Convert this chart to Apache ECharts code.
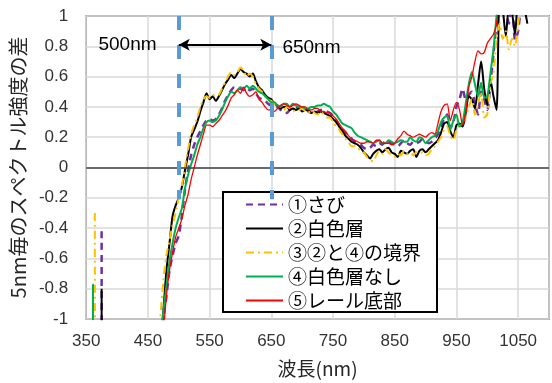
<!DOCTYPE html>
<html><head><meta charset="utf-8">
<script src="https://cdn.jsdelivr.net/npm/echarts@6/dist/echarts.min.js"></script>
<style>html,body{margin:0;padding:0;background:#fff}#c{width:552px;height:383px}</style>
</head><body><div id="c"></div>
<script>
// ---- data ----
const seriesNames = ['①さび', '②白色層', '③②と④の境界', '④白色層なし', '⑤レール底部'];
const wavelengths = [
  465,470,475,480,485,490,495,500,505,510,
  515,520,525,530,535,540,545,550,555,560,
  565,570,575,580,585,590,595,600,605,610,
  615,620,625,630,635,640,645,650,655,660,
  665,670,675,680,685,690,695,700,705,710,
  715,720,725,730,735,740,745,750,755,760,
  765,770,775,780,785,790,795,800,805,810,
  815,820,825,830,835,840,845,850,855,860,
  865,870,875,880,885,890,895,900,905,910,
  915,920,925,930,935,940,945,950,955,960,
  965,970,975,980,985,990,995,1000,1005,1010,
  1015,1020,1025,1030,1035,1040,1045,1050,1055,1060,
  1065
];
// ① さび
const rustValues = [
  -1.5,-1.2,-1.0,-0.85,-0.68,-0.58,-0.5,-0.45,-0.32,-0.15,
  -0.02,0.08,0.15,0.20,0.24,0.28,0.31,0.32,0.31,0.32,
  0.35,0.39,0.44,0.48,0.51,0.53,0.52,0.52,0.51,0.53,
  0.51,0.52,0.49,0.46,0.45,0.44,0.42,0.41,0.40,0.40,
  0.38,0.36,0.36,0.38,0.39,0.40,0.39,0.38,0.39,0.37,
  0.36,0.35,0.37,0.38,0.38,0.37,0.36,0.34,0.31,0.28,
  0.25,0.23,0.21,0.19,0.17,0.16,0.15,0.13,0.12,0.13,
  0.15,0.14,0.16,0.15,0.18,0.17,0.16,0.15,0.14,0.16,
  0.18,0.16,0.15,0.17,0.16,0.17,0.19,0.18,0.16,0.17,
  0.19,0.22,0.27,0.32,0.35,0.26,0.30,0.40,0.45,0.52,
  0.45,0.48,0.50,0.42,0.35,0.50,0.45,0.38,0.55,0.75,
  0.95,1.1,1.1,1.05,0.95,1.1,0.84,0.90,1.1
];
// ② 白色層
const whiteLayerValues = [
  -1.5,-1.2,-0.95,-0.68,-0.5,-0.32,-0.25,-0.2,-0.13,-0.02,
  0.08,0.20,0.25,0.30,0.37,0.43,0.49,0.45,0.47,0.44,
  0.47,0.51,0.55,0.58,0.61,0.59,0.62,0.65,0.63,0.62,
  0.60,0.62,0.57,0.53,0.51,0.48,0.46,0.45,0.42,0.41,
  0.39,0.40,0.40,0.38,0.39,0.38,0.39,0.37,0.38,0.38,
  0.36,0.37,0.36,0.37,0.36,0.35,0.34,0.32,0.30,0.27,
  0.24,0.21,0.19,0.17,0.16,0.15,0.13,0.10,0.08,0.06,
  0.09,0.11,0.12,0.10,0.12,0.13,0.10,0.09,0.07,0.11,
  0.10,0.09,0.11,0.12,0.07,0.11,0.12,0.10,0.12,0.14,
  0.16,0.18,0.23,0.29,0.30,0.24,0.20,0.28,0.29,0.27,
  0.36,0.47,0.45,0.39,0.55,0.70,0.52,0.41,0.58,0.47,
  0.38,1.15,1.05,0.87,1.05,1.02,0.88,1.1,1.1,1.05,
  0.95
];
// ③ ②と④の境界
const boundaryValues = [
  -1.3,-1.0,-0.75,-0.58,-0.48,-0.38,-0.3,-0.2,-0.12,0.0,
  0.12,0.22,0.28,0.33,0.40,0.45,0.47,0.46,0.48,0.47,
  0.48,0.52,0.56,0.60,0.63,0.61,0.63,0.66,0.64,0.60,
  0.62,0.60,0.55,0.52,0.50,0.47,0.45,0.44,0.42,0.41,
  0.40,0.38,0.40,0.39,0.37,0.38,0.38,0.39,0.37,0.36,
  0.38,0.36,0.35,0.37,0.35,0.33,0.33,0.30,0.27,0.25,
  0.22,0.19,0.17,0.14,0.14,0.12,0.12,0.10,0.07,0.05,
  0.04,0.08,0.11,0.09,0.12,0.10,0.08,0.07,0.09,0.08,
  0.11,0.09,0.10,0.08,0.10,0.09,0.10,0.08,0.09,0.12,
  0.14,0.17,0.20,0.25,0.27,0.21,0.18,0.25,0.28,0.30,
  0.33,0.40,0.45,0.35,0.42,0.50,0.33,0.35,0.55,0.62,
  0.85,0.95,0.85,0.90,0.78,0.85,0.80,0.95,1.1
];
// ④ 白色層なし
const noWhiteLayerValues = [
  -1.5,-1.2,-0.95,-0.78,-0.62,-0.5,-0.4,-0.33,-0.27,-0.14,
  -0.05,0.02,0.08,0.15,0.20,0.26,0.30,0.31,0.30,0.31,
  0.34,0.38,0.43,0.47,0.50,0.49,0.51,0.53,0.52,0.54,
  0.52,0.54,0.52,0.50,0.49,0.47,0.45,0.43,0.43,0.41,
  0.40,0.42,0.42,0.40,0.42,0.41,0.40,0.40,0.39,0.39,
  0.40,0.40,0.41,0.41,0.42,0.41,0.40,0.37,0.35,0.32,
  0.29,0.28,0.27,0.26,0.23,0.21,0.20,0.19,0.18,0.17,
  0.16,0.17,0.18,0.16,0.16,0.18,0.17,0.16,0.17,0.18,
  0.17,0.17,0.20,0.18,0.17,0.20,0.19,0.16,0.18,0.20,
  0.21,0.24,0.30,0.33,0.34,0.25,0.31,0.35,0.27,0.30,
  0.42,0.55,0.63,0.55,0.47,0.56,0.46,0.47,0.62,0.78,
  1.0,1.15,1.15,1.1,1.15,1.15
];
// ⑤ レール底部
const railBottomValues = [
  -1.6,-1.4,-1.1,-0.85,-0.68,-0.56,-0.46,-0.40,-0.34,-0.25,
  -0.18,-0.08,0.0,0.08,0.15,0.22,0.28,0.28,0.27,0.29,
  0.31,0.34,0.37,0.41,0.46,0.48,0.51,0.49,0.53,0.49,
  0.47,0.48,0.50,0.45,0.43,0.40,0.38,0.38,0.37,0.39,
  0.41,0.42,0.41,0.40,0.41,0.42,0.41,0.40,0.40,0.38,
  0.38,0.39,0.39,0.37,0.37,0.36,0.36,0.34,0.32,0.29,
  0.26,0.24,0.21,0.19,0.18,0.17,0.16,0.16,0.17,0.17,
  0.16,0.18,0.18,0.16,0.16,0.16,0.15,0.16,0.19,0.21,
  0.24,0.22,0.21,0.20,0.21,0.22,0.21,0.20,0.22,0.23,
  0.22,0.29,0.37,0.41,0.42,0.31,0.38,0.43,0.38,0.28,
  0.36,0.53,0.60,0.70,0.77,0.75,0.76,0.82,0.85,0.88,
  0.95,1.1,1.15
];
// short-wavelength spikes [wavelength, value]
const rustSpike = [[375, -0.42], [376, -1.5]];
const whiteLayerSpike = [[375, -0.8], [376, -1.5]];
const boundarySpike = [[364, -0.3], [365, -1.5]];
const noWhiteLayerSpike = [[360.5, -1.5], [361, -0.77], [361.5, -1.5]];
const railBottomSpike = [];

const xTickLabels = [350, 450, 550, 650, 750, 850, 950, 1050];
const yTickLabels = [-1, -0.8, -0.6, -0.4, -0.2, 0, 0.2, 0.4, 0.6, 0.8, 1];
const rangeStart = 500, rangeEnd = 650;
const rangeLabels = ['500nm', '650nm'];

// ---- build ----
function pairs(spike, vals) {
  return spike.concat(vals.map((v, i) => [wavelengths[i], v]));
}
const JP = "'Noto Sans CJK JP', sans-serif";
const NUM = "'Liberation Sans', 'Noto Sans CJK JP', sans-serif";
const colors = ['#7030A0', '#000000', '#FFC000', '#00B050', '#FF0000'];
const styles = [
  { width: 2.5, type: [7, 5] },
  { width: 2, type: 'solid' },
  { width: 2, type: [8, 4, 2, 4] },
  { width: 2, type: 'solid' },
  { width: 1.3, type: 'solid' }
];
const datasets = [
  pairs(rustSpike, rustValues),
  pairs(whiteLayerSpike, whiteLayerValues),
  pairs(boundarySpike, boundaryValues),
  pairs(noWhiteLayerSpike, noWhiteLayerValues),
  pairs(railBottomSpike, railBottomValues)
];

const series = [{
  name: '_zero', type: 'line', data: [], z: 1, silent: true,
  markLine: {
    silent: true, symbol: ['none', 'none'], animation: false,
    label: { show: false },
    lineStyle: { color: '#404040', width: 1.5, type: 'solid' },
    data: [{ yAxis: 0 }]
  }
}];
seriesNames.forEach((n, i) => {
  series.push({
    name: n, type: 'line', data: datasets[i], showSymbol: false, symbol: 'none',
    smooth: 0.25, clip: true, z: 2 + i * 0.01,
    itemStyle: { color: colors[i] },
    lineStyle: { color: colors[i], width: styles[i].width, type: styles[i].type }
  });
});
const blueLine = { color: '#5B9BD5', width: 4, type: [14, 15] };
series.push({
  name: '_annot', type: 'line', data: [], z: 10, silent: true,
  markLine: {
    silent: true, animation: false, symbol: ['none', 'none'],
    label: { show: false },
    data: [
      [{ coord: [rangeStart, 1], lineStyle: blueLine }, { coord: [rangeStart, -0.21] }],
      [{ coord: [rangeEnd, 1], lineStyle: blueLine }, { coord: [rangeEnd, -0.21] }],
      [{ coord: [rangeStart, 0.81], symbol: 'arrow', symbolSize: [9, 11],
         lineStyle: { color: '#000', width: 2, type: 'solid' } },
       { coord: [rangeEnd, 0.81], symbol: 'arrow', symbolSize: [9, 11] }]
    ]
  },
  markPoint: {
    silent: true, animation: false, symbol: 'circle', symbolSize: 0,
    label: { show: true, position: 'inside', color: '#000', fontSize: 19, fontFamily: NUM },
    data: [
      { coord: [417, 0.813], label: { formatter: rangeLabels[0] } },
      { coord: [715, 0.79], label: { formatter: rangeLabels[1] } }
    ]
  }
});

const chart = echarts.init(document.getElementById('c'), null, { renderer: 'canvas' });
chart.setOption({
  animation: false,
  backgroundColor: '#fff',
  grid: { left: 85, right: -3, top: 16, bottom: 62, show: true, borderColor: '#595959', borderWidth: 1.5, backgroundColor: 'transparent' },
  xAxis: {
    type: 'value', min: 350, max: 1100, interval: 100,
    name: '波長(nm)', nameLocation: 'middle', nameGap: 40,
    nameTextStyle: { fontFamily: JP, fontSize: 19, color: '#262626' },
    axisLine: { show: false }, axisTick: { show: false },
    axisLabel: { margin: 14, fontSize: 17, fontFamily: NUM, color: '#333',
      formatter: v => xTickLabels.includes(v) ? String(v) : '' },
    splitLine: { show: true, lineStyle: { color: '#D9D9D9', width: 1.5 } }
  },
  yAxis: {
    type: 'value', min: -1, max: 1, interval: 0.2,
    name: '5nm毎のスペクトル強度の差', nameLocation: 'middle', nameRotate: 90, nameGap: 58,
    nameTextStyle: { fontFamily: JP, fontSize: 20, color: '#262626' },
    axisLine: { show: false }, axisTick: { show: false },
    axisLabel: { margin: 18, fontSize: 17, fontFamily: NUM, color: '#333',
      formatter: v => { const r = Math.round(v * 10) / 10; return yTickLabels.includes(r) ? String(r) : ''; } },
    splitLine: { show: true, lineStyle: { color: '#D9D9D9', width: 1.5 } }
  },
  legend: {
    data: seriesNames, orient: 'vertical', left: 223, top: 192,
    padding: [3, 16, 2, 22], itemGap: 5, itemWidth: 37, itemHeight: 14,
    backgroundColor: '#fff', borderColor: '#000', borderWidth: 2,
    selectedMode: false,
    itemStyle: { color: 'transparent', borderColor: 'transparent', borderWidth: 0, opacity: 0 },
    textStyle: { fontFamily: JP, fontSize: 19, color: '#000', lineHeight: 18 }
  },
  series: series
});
</script></body></html>
